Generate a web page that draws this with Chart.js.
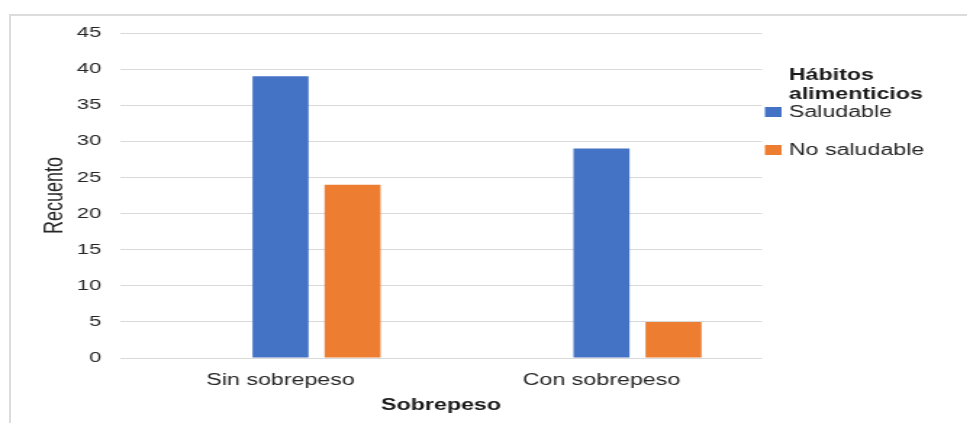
<!DOCTYPE html>
<html>
<head>
<meta charset="utf-8">
<script src="https://cdn.jsdelivr.net/npm/chart.js@4"></script>
<style>
  html, body { margin: 0; padding: 0; background: #fff; }
  .wrap { position: relative; width: 967px; height: 423px; overflow: hidden; }
  .frame { position: absolute; left: 9px; top: 14px; right: -5px; bottom: -5px;
           border-top: 2px solid #dcdcdc; border-left: 2px solid #dcdcdc; }
  #myChart { position: absolute; left: 0; top: 0; transform: scaleX(1.45); transform-origin: 0 0; }
</style>
</head>
<body>
<div class="wrap">
  <div class="frame"></div>
  <canvas id="myChart" width="667" height="423" style="width:667px;height:423px"></canvas>
</div>
<script>
// data
var categorias = ["Sin sobrepeso", "Con sobrepeso"];
var vacio = [null, null];          // empty first series (keeps the Excel spacing)
var saludable = [39, 29];
var noSaludable = [24, 5];
var yTicks = [0, 5, 10, 15, 20, 25, 30, 35, 40, 45];

var tituloLeyenda = ["Hábitos", "alimenticios"];

var FONT = "'Liberation Sans', Arial, sans-serif";

// legend drawn by hand: title needs two lines
var leyenda = {
  id: "leyenda",
  afterDraw: function (chart) {
    var ctx = chart.ctx;
    ctx.save();
    ctx.fillStyle = "#1a1a1a";
    ctx.textAlign = "left";
    ctx.textBaseline = "alphabetic";
    ctx.font = "bold 16px " + FONT;
    ctx.fillText(tituloLeyenda[0], 544, 80);
    ctx.fillText(tituloLeyenda[1], 544, 99);
    var rows = [112, 150];
    var i = 0;
    chart.data.datasets.forEach(function (ds) {
      if (!ds.label) return;
      var y = rows[i++];
      ctx.fillStyle = ds.backgroundColor;
      ctx.fillRect(527.5, y - 5, 11.5, 10);
      ctx.fillStyle = "#262626";
      ctx.font = "16px " + FONT;
      ctx.textBaseline = "middle";
      ctx.fillText(ds.label, 544, y + 1);
    });
    ctx.restore();
  }
};

new Chart("myChart", {
  type: "bar",
  data: {
    labels: categorias,
    datasets: [
      { label: "", data: vacio, backgroundColor: "#a5a5a5" },
      { label: "Saludable", data: saludable, backgroundColor: "#4472c4" },
      { label: "No saludable", data: noSaludable, backgroundColor: "#ed7d31" }
    ]
  },
  options: {
    responsive: false,
    animation: false,
    devicePixelRatio: 1,
    categoryPercentage: 0.673,
    barPercentage: 0.778,
    layout: { padding: { top: 33, right: 141.5, bottom: 0, left: 0 } },
    plugins: {
      legend: { display: false },
      tooltip: { enabled: false }
    },
    scales: {
      x: {
        grid: { display: false },
        border: { display: false },
        ticks: { color: "#262626", padding: 5, font: { family: FONT, size: 16 } },
        title: {
          display: true,
          text: "Sobrepeso",
          color: "#1a1a1a",
          font: { family: FONT, size: 16, weight: "bold" },
          padding: { top: 0, bottom: 8 }
        },
        afterFit: function (s) { s.height = 65; }
      },
      y: {
        min: 0,
        max: 45,
        afterBuildTicks: function (s) { s.ticks = yTicks.map(function (v) { return { value: v }; }); },
        grid: { color: "#d9d9d9", lineWidth: 1, drawTicks: false },
        border: { display: false },
        ticks: { color: "#262626", padding: 13, font: { family: FONT, size: 15 } },
        title: {
          display: true,
          text: "Recuento",
          color: "#262626",
          font: { family: FONT, size: 18 },
          padding: { top: 27, bottom: 0 }
        },
        afterFit: function (s) { s.width = 82.8; }
      }
    }
  },
  plugins: [leyenda]
});
</script>
</body>
</html>
